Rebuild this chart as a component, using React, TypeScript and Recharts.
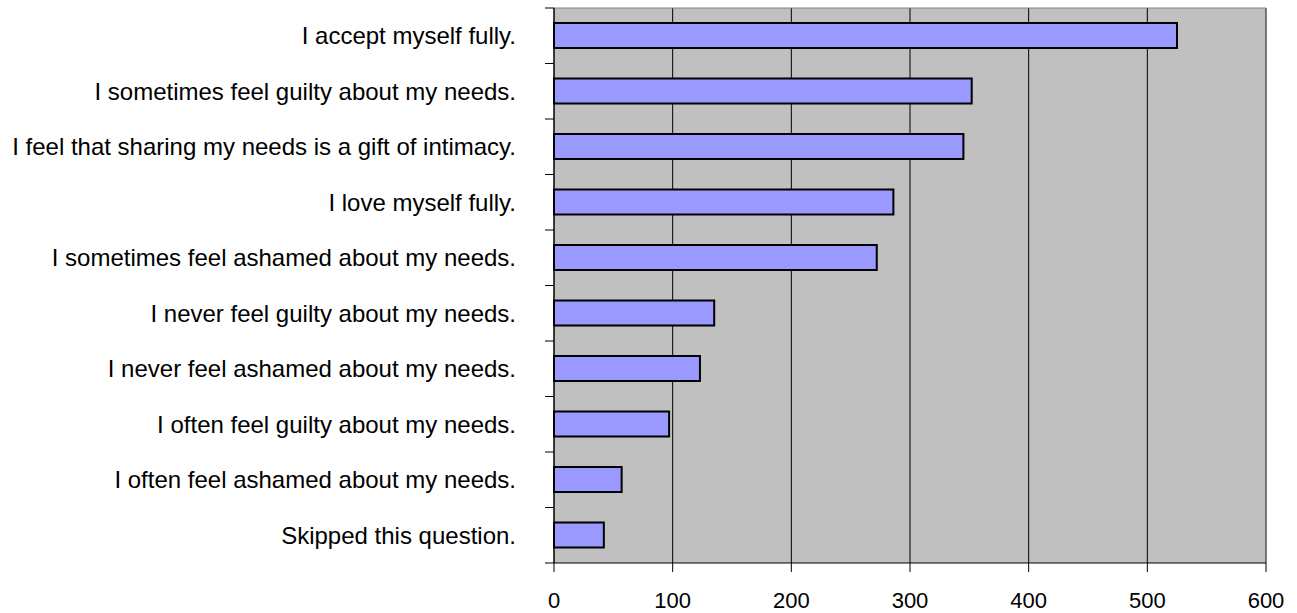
import React from 'react';
import { BarChart, Bar, XAxis, YAxis, CartesianGrid } from 'recharts';

const categories = [
  'I accept myself fully.',
  'I sometimes feel guilty about my needs.',
  'I feel that sharing my needs is a gift of intimacy.',
  'I love myself fully.',
  'I sometimes feel ashamed about my needs.',
  'I never feel guilty about my needs.',
  'I never feel ashamed about my needs.',
  'I often feel guilty about my needs.',
  'I often feel ashamed about my needs.',
  'Skipped this question.',
];

const responses = [525, 352, 345, 286, 272, 135, 123, 97, 57, 42];

const xTicks = [0, 100, 200, 300, 400, 500, 600];

const data = categories.map((answer, i) => ({ answer, count: responses[i] }));

const FONT = '"Liberation Sans", Arial, sans-serif';

// label at the band centre, tick marks on the band edges (excel style)
const AnswerTick = (props: any) => {
  const { x, y, payload, index, visibleTicksCount } = props;
  const half = payload && payload.offset ? payload.offset : 27.75;
  const axisX = x + 38;
  const isLast = index === (visibleTicksCount ?? categories.length) - 1;
  return (
    <g>
      <line x1={axisX - 9} x2={axisX} y1={y - half} y2={y - half} stroke="#000" />
      {isLast && <line x1={axisX - 9} x2={axisX} y1={y + half} y2={y + half} stroke="#000" />}
      <text x={x} y={y} dy="0.35em" textAnchor="end" fill="#000" fontSize={24} fontFamily={FONT}>
        {payload.value}
      </text>
    </g>
  );
};

const App: React.FC = () => {
  return (
    <div style={{ position: 'absolute', left: 0, top: 0, width: 1297, height: 613, background: '#fff' }}>
      <BarChart
        width={1297}
        height={613}
        data={data}
        layout="vertical"
        margin={{ top: 8, right: 31, left: 0, bottom: 0 }}
      >
        <CartesianGrid fill="#C0C0C0" stroke="#000" horizontal={false} />
        <CartesianGrid
          fill="none"
          stroke="#808080"
          horizontalCoordinatesGenerator={({ offset }: any) => [offset.top]}
          verticalCoordinatesGenerator={({ offset }: any) => [offset.left + offset.width]}
        />
        <XAxis
          type="number"
          domain={[0, 600]}
          ticks={xTicks}
          height={50}
          stroke="#000"
          tickSize={9}
          tickMargin={20}
          tick={{ fill: '#000', fontSize: 22, fontFamily: FONT }}
        />
        <YAxis
          type="category"
          dataKey="answer"
          width={554}
          stroke="#000"
          tickLine={false}
          tickSize={0}
          tickMargin={38}
          interval={0}
          tick={<AnswerTick />}
        />
        <Bar dataKey="count" fill="#9999FF" stroke="#000" strokeWidth={2} barSize={25} isAnimationActive={false} />
      </BarChart>
    </div>
  );
};

export default App;
